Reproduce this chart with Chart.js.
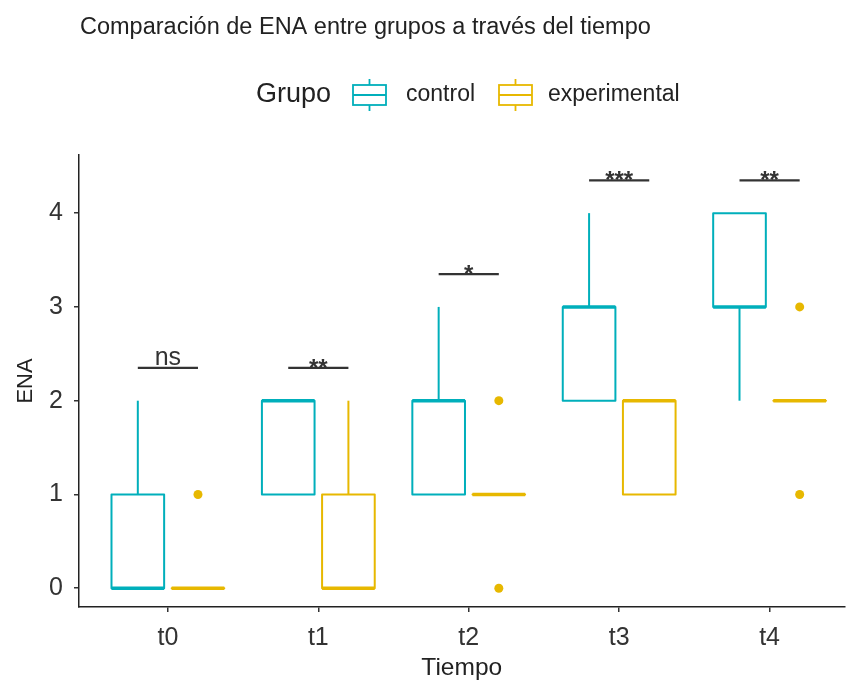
<!DOCTYPE html>
<html>
<head>
<meta charset="utf-8">
<script src="https://cdn.jsdelivr.net/npm/chart.js@4.4.1/dist/chart.umd.min.js"></script>
<style>
  html, body { margin: 0; padding: 0; background: #fff; }
  #wrap { width: 849px; height: 690px; }
</style>
</head>
<body>
<div id="wrap"><canvas id="grafico" width="849" height="690"></canvas></div>
<script>
// Momentos de medición
const tiempos = ['t0', 't1', 't2', 't3', 't4'];

// Resumen de cajas, grupo control
const controlMin = [0, 1, 1, 2, 2];
const controlQ1  = [0, 1, 1, 2, 3];
const controlMed = [0, 2, 2, 3, 3];
const controlQ3  = [1, 2, 2, 3, 4];
const controlMax = [2, 2, 3, 4, 4];
const controlAtipicos = [[], [], [], [], []];

// Resumen de cajas, grupo experimental
const expMin = [0, 0, 1, 1, 2];
const expQ1  = [0, 0, 1, 1, 2];
const expMed = [0, 0, 1, 2, 2];
const expQ3  = [0, 1, 1, 2, 2];
const expMax = [0, 2, 1, 2, 2];
const expAtipicos = [[1], [], [0, 2], [], [1, 3]];

// Comparaciones entre grupos en cada momento
const significancia = ['ns', '**', '*', '***', '**'];
const alturaSignif  = [2.35, 2.35, 3.35, 4.35, 4.35];

const ticksY = [0, 1, 2, 3, 4];

const COLOR_CONTROL = '#00AFBB';
const COLOR_EXP = '#E7B800';
const FUENTE = '"Liberation Sans", Arial, sans-serif';
const DESPL = 0.2;     // desplazamiento de cada grupo respecto al centro
const ANCHO = 0.35;    // ancho de caja en unidades del eje x

const grupos = [
  { nombre: 'control', color: COLOR_CONTROL, d: -DESPL,
    min: controlMin, q1: controlQ1, med: controlMed, q3: controlQ3, max: controlMax, at: controlAtipicos },
  { nombre: 'experimental', color: COLOR_EXP, d: DESPL,
    min: expMin, q1: expQ1, med: expMed, q3: expQ3, max: expMax, at: expAtipicos }
];

// Puntos atípicos como conjuntos de dispersión
const datasets = grupos.map(g => ({
  label: g.nombre,
  data: g.at.flatMap((vals, i) => vals.map(v => ({ x: i + g.d, y: v }))),
  backgroundColor: g.color,
  borderColor: g.color,
  pointRadius: 4.5,
  pointHoverRadius: 4.5,
  borderWidth: 0,
  showLine: false
}));

const cajas = {
  id: 'cajas',
  beforeDatasetsDraw(chart) {
    const { ctx, scales: { x, y } } = chart;
    ctx.save();
    grupos.forEach(g => {
      ctx.strokeStyle = g.color;
      tiempos.forEach((t, i) => {
        const cx = x.getPixelForValue(i + g.d);
        const xl = x.getPixelForValue(i + g.d - ANCHO / 2);
        const xr = x.getPixelForValue(i + g.d + ANCHO / 2);
        const yq1 = y.getPixelForValue(g.q1[i]);
        const yq3 = y.getPixelForValue(g.q3[i]);
        const ymed = y.getPixelForValue(g.med[i]);
        const ymin = y.getPixelForValue(g.min[i]);
        const ymax = y.getPixelForValue(g.max[i]);
        ctx.lineWidth = 2;
        ctx.lineCap = 'butt';
        // bigotes
        ctx.beginPath();
        if (g.max[i] > g.q3[i]) { ctx.moveTo(cx, yq3); ctx.lineTo(cx, ymax); }
        if (g.min[i] < g.q1[i]) { ctx.moveTo(cx, yq1); ctx.lineTo(cx, ymin); }
        ctx.stroke();
        // caja
        ctx.lineJoin = 'round';
        ctx.strokeRect(xl, yq3, xr - xl, yq1 - yq3);
        // mediana
        ctx.lineWidth = 3.5;
        ctx.beginPath();
        ctx.moveTo(xl, ymed);
        ctx.lineTo(xr, ymed);
        ctx.stroke();
      });
    });
    ctx.restore();
  },
  afterDatasetsDraw(chart) {
    const { ctx, scales: { x, y } } = chart;
    ctx.save();
    ctx.strokeStyle = '#333';
    ctx.fillStyle = '#333';
    ctx.lineWidth = 2.2;
    ctx.textAlign = 'center';
    ctx.textBaseline = 'alphabetic';
    significancia.forEach((s, i) => {
      const x0 = x.getPixelForValue(i - DESPL);
      const x1 = x.getPixelForValue(i + DESPL);
      const yy = y.getPixelForValue(alturaSignif[i]);
      ctx.beginPath();
      ctx.moveTo(x0, yy);
      ctx.lineTo(x1, yy);
      ctx.stroke();
      if (s === 'ns') {
        ctx.font = '25px ' + FUENTE;
        ctx.fillText(s, (x0 + x1) / 2, yy - 3);
      } else {
        ctx.font = 'bold 24px ' + FUENTE;
        ctx.fillText(s, (x0 + x1) / 2, yy + 8);
      }
    });
    ctx.restore();
  },
  afterDraw(chart) {
    const { ctx } = chart;
    ctx.save();
    // título
    ctx.fillStyle = '#222';
    ctx.font = '23.5px ' + FUENTE;
    ctx.textAlign = 'left';
    ctx.textBaseline = 'middle';
    ctx.fillText('Comparación de ENA entre grupos a través del tiempo', 80, 28);
    // leyenda
    const cy = 95;
    ctx.font = '27px ' + FUENTE;
    ctx.fillStyle = '#222';
    ctx.fillText('Grupo', 256, cy);
    const clave = (x0, color) => {
      ctx.strokeStyle = color;
      ctx.lineWidth = 1.8;
      ctx.strokeRect(x0, cy - 10, 33, 20);
      ctx.beginPath();
      ctx.moveTo(x0, cy); ctx.lineTo(x0 + 33, cy);
      ctx.moveTo(x0 + 16.5, cy - 10); ctx.lineTo(x0 + 16.5, cy - 16);
      ctx.moveTo(x0 + 16.5, cy + 10); ctx.lineTo(x0 + 16.5, cy + 16);
      ctx.stroke();
    };
    clave(353, COLOR_CONTROL);
    clave(499, COLOR_EXP);
    ctx.font = '23px ' + FUENTE;
    ctx.fillStyle = '#222';
    ctx.fillText('control', 406, cy);
    ctx.fillText('experimental', 548, cy);
    ctx.restore();
  }
};

new Chart(document.getElementById('grafico'), {
  type: 'scatter',
  data: { datasets },
  plugins: [cajas],
  options: {
    responsive: false,
    animation: false,
    events: [],
    layout: { padding: { top: 155, right: 0, bottom: 0, left: 0 } },
    plugins: { legend: { display: false }, tooltip: { enabled: false }, title: { display: false } },
    scales: {
      x: {
        type: 'linear',
        min: -0.591,
        max: 4.498,
        afterBuildTicks(scale) { scale.ticks = tiempos.map((t, i) => ({ value: i })); },
        afterFit(scale) { scale.height = 83; },
        grid: { display: true, drawOnChartArea: false, drawTicks: true, tickLength: 5, color: '#333', lineWidth: 1.5 },
        border: { display: true, color: '#222', width: 1.5 },
        ticks: {
          callback: v => tiempos[v],
          color: '#333',
          font: { family: FUENTE, size: 25 },
          padding: 11,
          maxRotation: 0,
          autoSkip: false
        },
        title: { display: true, text: 'Tiempo', color: '#222', font: { family: FUENTE, size: 24.5 }, padding: { top: 0, bottom: 7 } }
      },
      y: {
        type: 'linear',
        min: -0.2,
        max: 4.62,
        afterBuildTicks(scale) { scale.ticks = ticksY.map(v => ({ value: v })); },
        afterFit(scale) { scale.width = 79; },
        grid: { display: true, drawOnChartArea: false, drawTicks: true, tickLength: 5, color: '#333', lineWidth: 1.5 },
        border: { display: true, color: '#222', width: 1.5 },
        ticks: {
          color: '#333',
          font: { family: FUENTE, size: 25 },
          padding: 11
        },
        title: { display: true, text: 'ENA', color: '#222', font: { family: FUENTE, size: 22 }, padding: { top: 13, bottom: 0 } }
      }
    }
  }
});
</script>
</body>
</html>
